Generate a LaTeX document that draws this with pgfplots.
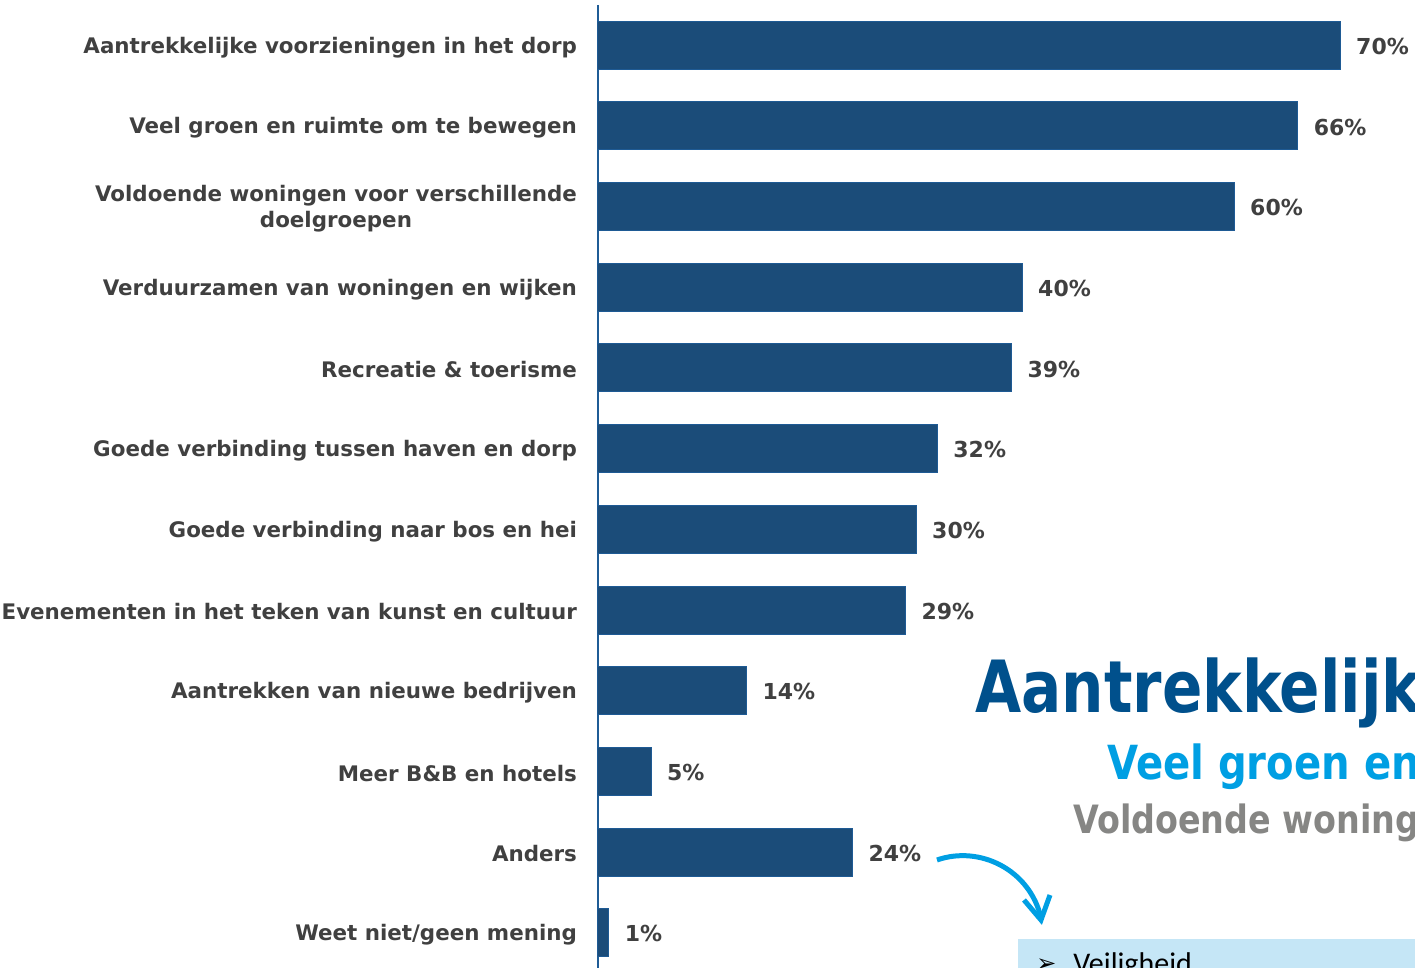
\documentclass[border=0pt]{standalone}
\usepackage{fontspec}
\setmainfont{DejaVu Sans}
\newfontfamily\condfont{DejaVu Sans Condensed}
\newfontfamily\caliblike{Carlito}
\usepackage{graphicx}
\usepackage{pgfplots}
\pgfplotsset{compat=1.18}
\definecolor{barfill}{RGB}{27,76,121}
\definecolor{bardraw}{RGB}{30,90,148}
\definecolor{axisblue}{RGB}{31,92,150}
\definecolor{lbl}{RGB}{64,64,64}
\definecolor{bigblue}{RGB}{0,80,140}
\definecolor{lightblue}{RGB}{0,159,227}
\definecolor{greytxt}{RGB}{134,134,132}
\definecolor{boxblue}{RGB}{197,230,246}
\begin{document}
\begin{tikzpicture}
\useasboundingbox (0,0) rectangle (707.5pt,484pt);
\begin{axis}[
  at={(299pt,481.5pt)}, anchor=north west,
  scale only axis, width=408.5pt, height=484pt,
  xmin=0, xmax=77.07, ymin=-0.5, ymax=11.5, y dir=reverse,
  xbar, bar width=24pt,
  axis x line=none, axis y line=left,
  axis line style={-, color=axisblue, line width=1pt},
  ytick={0,...,11},
  yticklabels={Aantrekkelijke voorzieningen in het dorp,
    Veel groen en ruimte om te bewegen,
    {Voldoende woningen voor verschillende\\doelgroepen},
    Verduurzamen van woningen en wijken,
    Recreatie \& toerisme,
    Goede verbinding tussen haven en dorp,
    Goede verbinding naar bos en hei,
    Evenementen in het teken van kunst en cultuur,
    Aantrekken van nieuwe bedrijven,
    Meer B\&B en hotels,
    Anders,
    Weet niet/geen mening},
  major tick length=0pt,
  yticklabel style={font=\fontsize{10.7}{13}\selectfont\bfseries, text=lbl, align=center, xshift=-7pt, yshift=-1pt},
  clip=false,
  point meta=x,
  /pgf/number format/assume math mode=true,
  nodes near coords={\pgfmathprintnumber{\pgfplotspointmeta}\%},
  every node near coord/.append style={font=\fontsize{11}{13}\selectfont\bfseries, text=lbl, anchor=west, xshift=4.5pt, yshift=-0.5pt},
]
\addplot[fill=barfill, draw=bardraw, line width=0.5pt] coordinates {
(70,0) (66,1) (60,2) (40,3) (39,4) (32,5) (30,6) (29,7) (14,8) (5,9) (24,10) (1,11)};
\end{axis}
\begin{scope}[x=0.5pt,y=-0.5pt,shift={(0pt,484pt)}]
\fill[boxblue] (1018,939) rectangle (1420,975);
\node[anchor=base west, inner sep=0pt] at (1036,972) {\fontsize{12}{13}\selectfont ➢};
\node[anchor=base west, inner sep=0pt, font=\caliblike\fontsize{15}{17}\selectfont] at (1073,974) {Veiligheid};
\node[anchor=base west, inner sep=0pt, text=bigblue] at (975,713) {\scalebox{0.92}[1]{\condfont\bfseries\fontsize{36}{40}\selectfont Aantrekkelijke}};
\node[anchor=base west, inner sep=0pt, text=lightblue] at (1107,780) {\scalebox{0.95}[1]{\condfont\bfseries\fontsize{23.5}{26}\selectfont Veel groen en ruimte}};
\node[anchor=base west, inner sep=0pt, text=greytxt] at (1073,834) {\scalebox{0.95}[1]{\condfont\bfseries\fontsize{19.5}{22}\selectfont Voldoende woningen}};
\draw[lightblue, line width=2.5pt] (937,860) .. controls (980,845) and (1030,870) .. (1041,918);
\draw[lightblue, line width=2.5pt] (1024,900) -- (1041,920) -- (1050,895);
\end{scope}
\end{tikzpicture}
\end{document}
